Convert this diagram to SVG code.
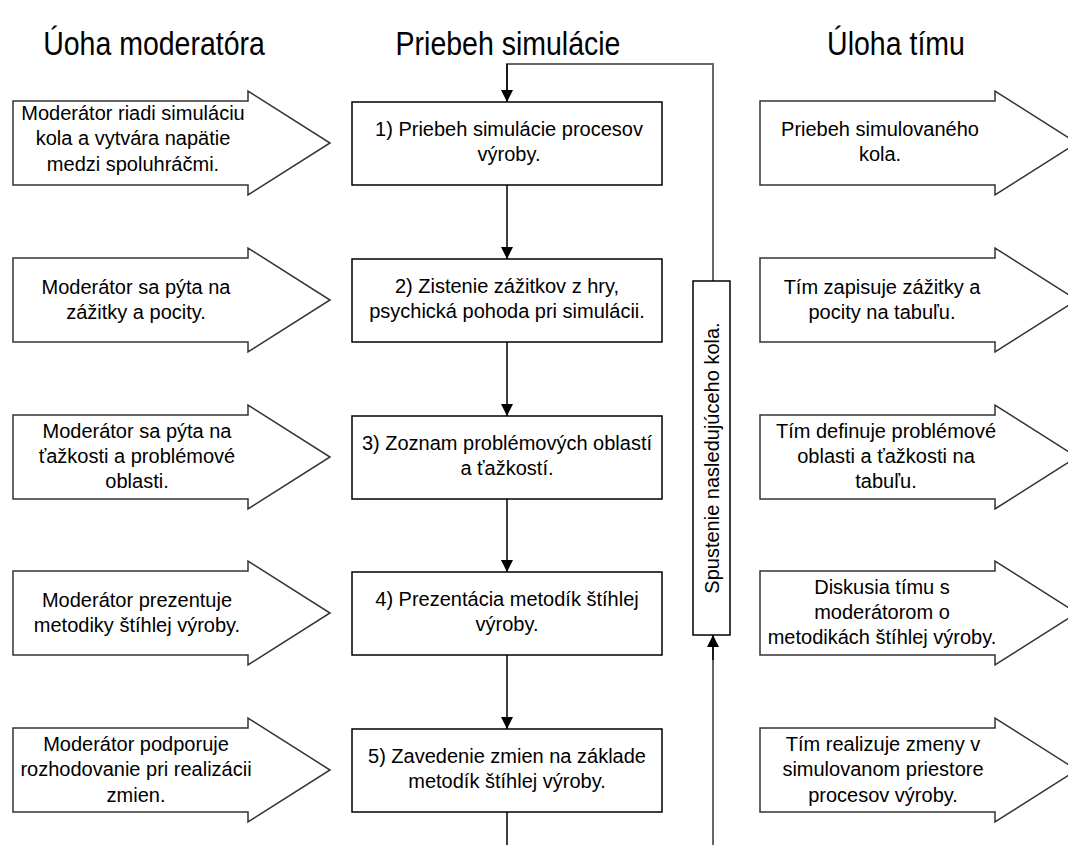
<svg xmlns="http://www.w3.org/2000/svg" width="1068" height="845" viewBox="0 0 1068 845">
<style>
.title{font-family:"Liberation Sans",Arial,sans-serif;font-size:28.5px;fill:#000;text-anchor:middle}
.t{font-family:"Liberation Sans",Arial,sans-serif;font-size:20px;fill:#000;text-anchor:middle}
.arr{fill:#fff;stroke:#333;stroke-width:1.5}
.box{fill:#fff;stroke:#000;stroke-width:1.5}
.ln{fill:none;stroke:#000;stroke-width:1.5}
.loop{fill:none;stroke:#666;stroke-width:2}
</style>
<defs>
<marker id="ahb" viewBox="0 0 10 10" refX="10" refY="5" markerWidth="12" markerHeight="12" orient="auto" markerUnits="userSpaceOnUse">
<path d="M0,0 L10,5 L0,10 z" fill="#000"/>
</marker>
</defs>
<g id="headers">
<text class="title" transform="translate(154,55) scale(1,1.15)">Úoha moderatóra</text>
<text class="title" transform="translate(508,55) scale(1,1.15)">Priebeh simulácie</text>
<text class="title" transform="translate(896,55) scale(1,1.15)">Úloha tímu</text>
</g>
<g id="connectors">
<path class="loop" d="M713,281 V64 H507 V90"/>
<path class="ln" d="M507,64 V102" marker-end="url(#ahb)"/>
<path class="ln" d="M507,185 V259" marker-end="url(#ahb)"/>
<path class="ln" d="M507,342 V416" marker-end="url(#ahb)"/>
<path class="ln" d="M507,499 V572" marker-end="url(#ahb)"/>
<path class="ln" d="M507,655 V729" marker-end="url(#ahb)"/>
<path class="ln" d="M507,812 V845"/>
<path class="loop" d="M713,845 V645"/>
<path class="ln" d="M713,660 V635" marker-end="url(#ahb)"/>
</g>
<g id="loopbox">
<rect class="box" x="693" y="281" width="37" height="354"/>
<text class="t" transform="translate(719,458) rotate(-90)" x="0" y="0">Spustenie nasledujúceho kola.</text>
</g>
<g id="mod1">
<path class="arr" d="M13,101 H248 V91 L330,143 L248,195 V185 H13 Z"/>
<text class="t" x="133" y="120">Moderátor riadi simuláciu</text>
<text class="t" x="133" y="145">kola a vytvára napätie</text>
<text class="t" x="133" y="171">medzi spoluhráčmi.</text>
</g>
<g id="mod2">
<path class="arr" d="M13,258 H248 V248 L330,300 L248,352 V342 H13 Z"/>
<text class="t" x="136" y="294">Moderátor sa pýta na</text>
<text class="t" x="136" y="319">zážitky a pocity.</text>
</g>
<g id="mod3">
<path class="arr" d="M13,415 H248 V405 L330,457 L248,509 V499 H13 Z"/>
<text class="t" x="137" y="438">Moderátor sa pýta na</text>
<text class="t" x="137" y="463">ťažkosti a problémové</text>
<text class="t" x="137" y="488">oblasti.</text>
</g>
<g id="mod4">
<path class="arr" d="M13,571 H248 V561 L330,613 L248,665 V655 H13 Z"/>
<text class="t" x="137" y="607">Moderátor prezentuje</text>
<text class="t" x="137" y="632">metodiky štíhlej výroby.</text>
</g>
<g id="mod5">
<path class="arr" d="M13,728 H248 V718 L330,770 L248,822 V812 H13 Z"/>
<text class="t" x="136" y="751">Moderátor podporuje</text>
<text class="t" x="136" y="776">rozhodovanie pri realizácii</text>
<text class="t" x="136" y="802">zmien.</text>
</g>
<g id="step1">
<rect class="box" x="352" y="102" width="310" height="83"/>
<text class="t" x="509" y="136">1) Priebeh simulácie procesov</text>
<text class="t" x="509" y="161">výroby.</text>
</g>
<g id="step2">
<rect class="box" x="352" y="259" width="310" height="83"/>
<text class="t" x="507" y="293">2) Zistenie zážitkov z hry,</text>
<text class="t" x="507" y="318">psychická pohoda pri simulácii.</text>
</g>
<g id="step3">
<rect class="box" x="352" y="416" width="310" height="83"/>
<text class="t" x="507" y="450">3) Zoznam problémových oblastí</text>
<text class="t" x="507" y="475">a ťažkostí.</text>
</g>
<g id="step4">
<rect class="box" x="352" y="572" width="310" height="83"/>
<text class="t" x="507" y="606">4) Prezentácia metodík štíhlej</text>
<text class="t" x="507" y="631">výroby.</text>
</g>
<g id="step5">
<rect class="box" x="352" y="729" width="310" height="83"/>
<text class="t" x="507" y="763">5) Zavedenie zmien na základe</text>
<text class="t" x="507" y="788">metodík štíhlej výroby.</text>
</g>
<g id="team1">
<path class="arr" d="M760,101 H995 V91 L1077,143 L995,195 V185 H760 Z"/>
<text class="t" x="880" y="136">Priebeh simulovaného</text>
<text class="t" x="880" y="161">kola.</text>
</g>
<g id="team2">
<path class="arr" d="M760,258 H995 V248 L1077,300 L995,352 V342 H760 Z"/>
<text class="t" x="882" y="294">Tím zapisuje zážitky a</text>
<text class="t" x="882" y="319">pocity na tabuľu.</text>
</g>
<g id="team3">
<path class="arr" d="M760,415 H995 V405 L1077,457 L995,509 V499 H760 Z"/>
<text class="t" x="886" y="438">Tím definuje problémové</text>
<text class="t" x="886" y="463">oblasti a ťažkosti na</text>
<text class="t" x="886" y="488">tabuľu.</text>
</g>
<g id="team4">
<path class="arr" d="M760,571 H995 V561 L1077,613 L995,665 V655 H760 Z"/>
<text class="t" x="882" y="594">Diskusia tímu s</text>
<text class="t" x="882" y="619">moderátorom o</text>
<text class="t" x="882" y="644">metodikách štíhlej výroby.</text>
</g>
<g id="team5">
<path class="arr" d="M760,728 H995 V718 L1077,770 L995,822 V812 H760 Z"/>
<text class="t" x="883" y="751">Tím realizuje zmeny v</text>
<text class="t" x="883" y="776">simulovanom priestore</text>
<text class="t" x="883" y="802">procesov výroby.</text>
</g>
</svg>
